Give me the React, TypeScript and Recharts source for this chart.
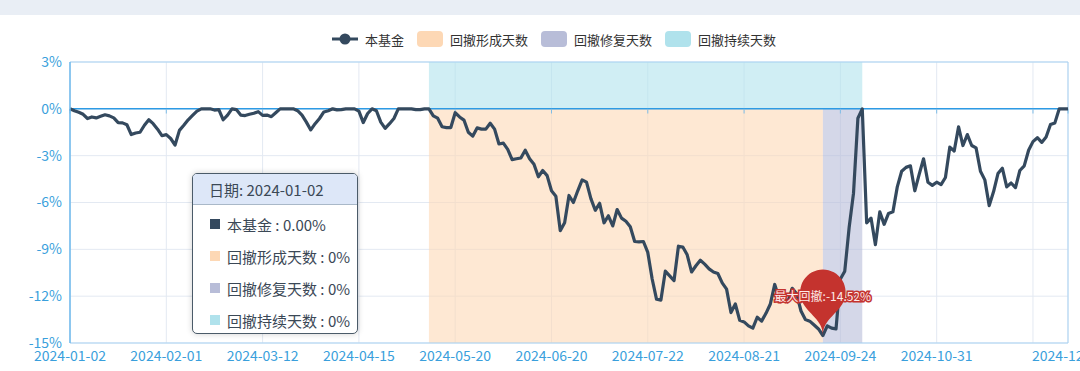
import {
  LineChart, Line, XAxis, YAxis, CartesianGrid, Tooltip, Legend,
  ReferenceArea, ReferenceLine, ReferenceDot,
} from 'recharts'

// 本基金 daily drawdown-style return (%), one value per trading day
const VALUES = [
  0.00, -0.12, -0.22, -0.35, -0.62, -0.52, -0.58, -0.48, -0.38, -0.45,
  -0.58, -0.88, -0.90, -1.02, -1.65, -1.55, -1.50, -1.05, -0.70, -0.95,
  -1.30, -1.72, -1.65, -1.90, -2.32, -1.38, -1.05, -0.70, -0.42, -0.15,
  0.00, 0.00, 0.00, -0.08, -0.05, -0.70, -0.40, 0.00, -0.05, -0.40,
  -0.43, -0.35, -0.28, -0.18, -0.42, -0.40, -0.50, -0.25, 0.00, 0.00,
  0.00, 0.00, -0.12, -0.40, -0.85, -1.35, -0.95, -0.62, -0.20, -0.12,
  0.00, -0.07, -0.05, 0.00, 0.00, 0.00, -0.15, -0.88, -0.30, 0.00,
  -0.12, -0.85, -1.25, -0.95, -0.62, 0.00, 0.00, 0.00, 0.00, -0.05,
  -0.05, 0.00, 0.00, -0.45, -0.60, -1.15, -1.20, -1.20, -0.25, -0.52,
  -0.72, -1.50, -1.75, -1.22, -1.30, -1.30, -0.92, -1.30, -2.25, -2.20,
  -2.60, -3.25, -3.20, -3.15, -2.65, -3.20, -3.55, -4.35, -3.95, -4.28,
  -5.25, -5.60, -7.80, -7.30, -5.55, -6.00, -5.25, -4.55, -4.70, -5.75,
  -6.50, -6.05, -7.30, -6.85, -7.50, -6.45, -7.00, -7.20, -7.55, -8.50,
  -8.52, -8.50, -9.20, -10.90, -12.20, -12.25, -10.40, -10.70, -11.00, -8.80,
  -8.85, -9.35, -10.45, -10.05, -9.70, -9.95, -10.25, -10.45, -10.55, -11.15,
  -11.55, -13.05, -12.50, -13.55, -13.65, -13.90, -14.05, -13.35, -13.60, -13.10,
  -12.50, -11.25, -12.15, -12.10, -12.35, -11.50, -11.85, -12.95, -13.50, -13.60,
  -13.85, -14.10, -14.52, -13.90, -14.05, -14.10, -10.90, -10.40, -7.60, -5.40,
  -0.60, 0.00, -7.30, -7.00, -8.70, -6.60, -7.40, -6.70, -6.60, -5.00,
  -4.00, -3.75, -3.65, -5.25, -4.20, -3.20, -4.70, -4.90, -4.70, -4.85,
  -4.40, -2.45, -2.70, -1.15, -2.35, -1.65, -2.35, -2.50, -4.00, -4.55,
  -6.20, -5.30, -4.15, -3.80, -5.00, -4.75, -5.05, -3.95, -3.65, -2.65,
  -2.10, -1.85, -2.15, -1.80, -1.00, -0.90, 0.00, 0.00, 0.00,
]

// x-axis: trading-day index → date label
const TICK_INDEX = [0, 22, 44, 66, 88, 110, 132, 154, 176, 198, 220, 228]
const TICK_DATES = [
  '2024-01-02', '2024-02-01', '2024-03-12', '2024-04-15', '2024-05-20', '2024-06-20',
  '2024-07-22', '2024-08-21', '2024-09-24', '2024-10-31', '2024-12-02', '2024-12-12',
]
const HIDDEN_LABEL = 220 // overlaps the last label, not shown
const Y_TICKS = [3, 0, -3, -6, -9, -12, -15]

// drawdown periods (trading-day index)
const DD_START = 82
const DD_TROUGH = 172
const DD_END = 181

const SERIES = ['本基金', '回撤形成天数', '回撤修复天数', '回撤持续天数']
const TOOLTIP_DATE = '2024-01-02'

const FONT = "'Noto Sans CJK SC', 'Noto Sans', sans-serif"
const LINE_COLOR = '#34495e'
const PIN_COLOR = '#c4332e'
const AREA_COLORS = ['#fdd8b5', '#b8bdd8', '#b0e2ec']
const AXIS_BLUE = '#3a9fdc'

const data = VALUES.map((v, i) => ({ i, v }))

function XTick(props: any) {
  const { x, y, payload } = props
  if (payload.value === HIDDEN_LABEL) return <g />
  const k = TICK_INDEX.indexOf(payload.value)
  return (
    <text x={x} y={y} dy="0.71em" textAnchor="middle" fill={AXIS_BLUE} fontSize={14} fontFamily={FONT}>
      {TICK_DATES[k]}
    </text>
  )
}

// echarts-like "pin" marker, tip sits on the point
function Pin(props: any) {
  const { cx, cy } = props
  const r = 22.7
  const h = 75.7
  const dy = (r * r) / (h - r)
  const c = cy - h + r + dy
  const ang = Math.asin(dy / r)
  const dx = Math.cos(ang) * r
  const tx = Math.sin(ang)
  const ty = Math.cos(ang)
  const cp = r * 0.6
  const cp2 = r * 0.7
  const d = `M${cx - dx},${c + dy} A${r},${r} 0 1 1 ${cx + dx},${c + dy} ` +
    `C${cx + dx - tx * cp},${c + dy + ty * cp} ${cx},${cy - cp2} ${cx},${cy} ` +
    `C${cx},${cy - cp2} ${cx - dx + tx * cp},${c + dy + ty * cp} ${cx - dx},${c + dy} Z`
  return (
    <g>
      <path d={d} fill={PIN_COLOR} />
      <text x={cx} y={c + 3} textAnchor="middle" dominantBaseline="central" fontSize={12}
        fontFamily={FONT} fill="#fde9e8" stroke={PIN_COLOR} strokeWidth={3} paintOrder="stroke">
        最大回撤:{VALUES[DD_TROUGH].toFixed(2)}%
      </text>
    </g>
  )
}

function LegendBar() {
  const rect = (color: string) => (
    <span style={{ width: 26, height: 16, borderRadius: 4, background: color, display: 'inline-block' }} />
  )
  const label = (t: string) => <span style={{ marginLeft: 7, marginRight: 13 }}>{t}</span>
  return (
    <div style={{ display: 'flex', alignItems: 'center', paddingLeft: 332, height: 20, fontSize: 13, color: '#333', fontFamily: FONT }}>
      <svg width={26} height={14}>
        <line x1={0} y1={7} x2={26} y2={7} stroke={LINE_COLOR} strokeWidth={3} />
        <circle cx={13} cy={7} r={5.5} fill={LINE_COLOR} />
      </svg>
      {label(SERIES[0])}
      {rect(AREA_COLORS[0])}{label(SERIES[1])}
      {rect(AREA_COLORS[1])}{label(SERIES[2])}
      {rect(AREA_COLORS[2])}{label(SERIES[3])}
    </div>
  )
}

function TipBox({ payload }: any) {
  const v = payload && payload.length ? Number(payload[0].value) : 0
  const rows: [string, string][] = [
    [LINE_COLOR, `${SERIES[0]} : ${v.toFixed(2)}%`],
    [AREA_COLORS[0], `${SERIES[1]} : 0%`],
    [AREA_COLORS[1], `${SERIES[2]} : 0%`],
    [AREA_COLORS[2], `${SERIES[3]} : 0%`],
  ]
  return (
    <div style={{
      width: 166, height: 161, boxSizing: 'border-box', border: '1.5px solid #4b5b69', borderRadius: 5,
      background: '#fff', overflow: 'hidden', fontFamily: FONT, fontSize: 15, color: '#3b4856',
      boxShadow: '0 0 6px rgba(0,0,0,0.18)',
    }}>
      <div style={{ height: 30, background: '#dde7f8', borderBottom: '1px solid #a9b8c8', display: 'flex', alignItems: 'center', paddingLeft: 16 }}>
        日期: {TOOLTIP_DATE}
      </div>
      <div style={{ paddingTop: 3 }}>
        {rows.map(([c, t]) => (
          <div key={t} style={{ height: 32, display: 'flex', alignItems: 'center', paddingLeft: 17 }}>
            <span style={{ width: 10, height: 10, background: c, display: 'inline-block', marginRight: 7 }} />
            {t}
          </div>
        ))}
      </div>
    </div>
  )
}

export default function App() {
  return (
    <div style={{ position: 'relative', width: 1080, height: 371, background: '#fff', overflow: 'hidden' }}>
      <style>{'body{margin:0}'}</style>
      <div style={{ position: 'absolute', left: 0, top: 0, width: 1080, height: 15, background: '#e9eef5' }} />
      <LineChart width={1080} height={371} data={data} margin={{ top: 62, right: 12, bottom: 0, left: 0 }}>
        <CartesianGrid stroke="#e3e9f2" strokeWidth={1} />
        <XAxis dataKey="i" type="number" domain={[0, VALUES.length - 1]} ticks={TICK_INDEX}
          height={28} tickLine={false} tick={<XTick />} axisLine={{ stroke: '#a9d3f3' }} interval={0} />
        <YAxis type="number" domain={[-15, 3]} ticks={Y_TICKS} width={70} tickLine={false}
          tickFormatter={(v: number) => `${v}%`} axisLine={{ stroke: '#6bb8ec', strokeWidth: 1.5 }}
          tick={{ fill: AXIS_BLUE, fontSize: 14, fontFamily: FONT }} />
        <ReferenceArea x1={DD_START} x2={DD_TROUGH} y1={-15} y2={0} fill={AREA_COLORS[0]} fillOpacity={0.6} strokeOpacity={0} />
        <ReferenceArea x1={DD_TROUGH} x2={DD_END} y1={-15} y2={0} fill={AREA_COLORS[1]} fillOpacity={0.6} strokeOpacity={0} />
        <ReferenceArea x1={DD_START} x2={DD_END} y1={0} y2={3} fill={AREA_COLORS[2]} fillOpacity={0.6} strokeOpacity={0} />
        <ReferenceLine y={3} stroke="#a9d3f3" />
        <ReferenceLine x={VALUES.length - 1} stroke="#a9d3f3" />
        <ReferenceLine y={0} stroke="#2d9ae4" strokeWidth={1.5} />
        {TICK_INDEX.map((t) => (
          <ReferenceLine key={t} segment={[{ x: t, y: 0 }, { x: t, y: -0.3 }]} stroke="#7fbde6" />
        ))}
        <Line type="linear" dataKey="v" name={SERIES[0]} stroke={LINE_COLOR} strokeWidth={3.2}
          strokeLinejoin="round" dot={false} activeDot={false} isAnimationActive={false} />
        <ReferenceDot x={DD_TROUGH} y={VALUES[DD_TROUGH]} r={0} shape={<Pin />} ifOverflow="visible" />
        <Tooltip defaultIndex={0} active position={{ x: 192, y: 173 }} cursor={false}
          isAnimationActive={false} content={<TipBox />} wrapperStyle={{ outline: 'none' }} />
        <Legend verticalAlign="middle" align="center" content={<LegendBar />}
          wrapperStyle={{ top: 29, left: 0, width: 1080 }} />
      </LineChart>
    </div>
  )
}
